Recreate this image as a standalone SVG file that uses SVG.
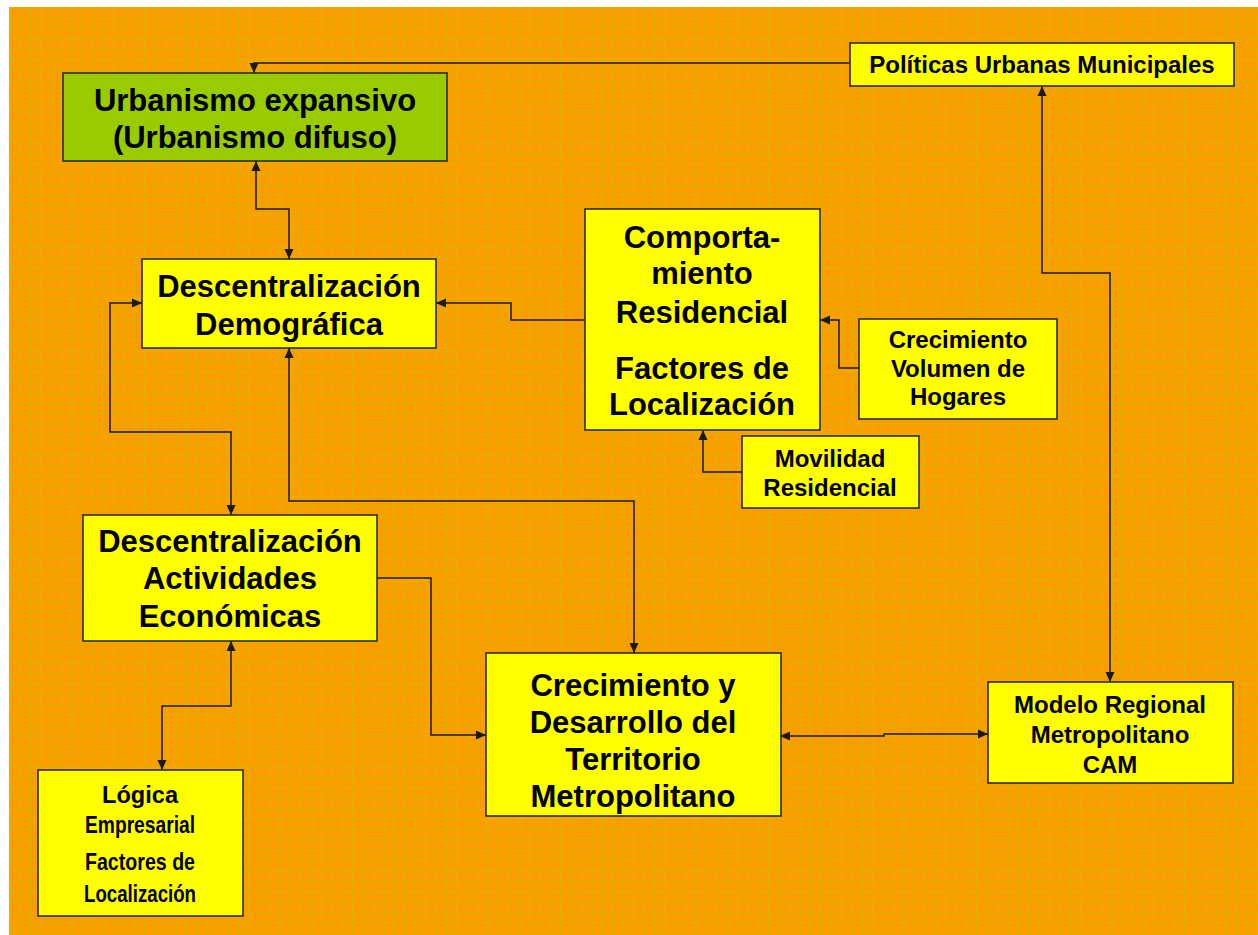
<svg xmlns="http://www.w3.org/2000/svg" width="1258" height="935" viewBox="0 0 1258 935">
<defs>
<pattern id="grid" x="9" y="7" width="10.4" height="10.4" patternUnits="userSpaceOnUse">
<rect width="10.4" height="10.4" fill="#FB9C00"/>
<path d="M0,0.7 H10.4 M0.7,0 V10.4" stroke="#D9B700" stroke-width="1.4" opacity="0.75"/>
</pattern>
<marker id="ah" viewBox="0 0 10 10" refX="10" refY="5" markerWidth="10" markerHeight="10" markerUnits="userSpaceOnUse" orient="auto-start-reverse">
<path d="M0,0.5 L10,5 L0,9.5 z" fill="#1a1a1a"/>
</marker>
<style>
.box{fill:#FFFF00;stroke:#2b2b1a;stroke-width:1.6}
.green{fill:#99CC00;stroke:#2b2b1a;stroke-width:1.6}
.t{font-family:"Liberation Sans",Arial,sans-serif;font-weight:bold;fill:#000;text-anchor:middle}
.big{font-size:31px}
.mid{font-size:24px}
.sm{font-size:24px}
.c{fill:none;stroke:#1a1a1a;stroke-width:1.5}
.a2{marker-start:url(#ah);marker-end:url(#ah)}
.a1{marker-end:url(#ah)}
</style>
</defs>
<rect width="1258" height="935" fill="#ffffff"/>
<rect x="9" y="7" width="1249" height="928" fill="url(#grid)"/>

<g id="connectors">
<path class="c a1" d="M850,63 H254 V73"/>
<path class="c a2" d="M256,161 V209 H289 V259"/>
<path class="c a2" d="M142,303 H110 V432 H231 V515"/>
<path class="c a2" d="M289,348 V501 H634 V653"/>
<path class="c a1" d="M585,320 H511 V303 H436"/>
<path class="c a1" d="M859,368 H839 V320 H820"/>
<path class="c a1" d="M742,472 H703 V430"/>
<path class="c a2" d="M1042,86 V273 H1110 V682"/>
<path class="c a1" d="M377,578 H431 V735 H486"/>
<path class="c a2" d="M231,641 V706 H162 V770"/>
<path class="c a2" d="M780,736 H884 V734 H988"/>
</g>

<g id="urbanismo">
<rect class="green" x="63" y="73" width="384" height="88"/>
<text class="t big" x="255" y="111">Urbanismo expansivo</text>
<text class="t big" x="255" y="148">(Urbanismo difuso)</text>
</g>

<g id="politicas">
<rect class="box" x="850" y="43" width="384" height="43"/>
<text class="t mid" x="1042" y="73">Políticas Urbanas Municipales</text>
</g>

<g id="demografica">
<rect class="box" x="142" y="259" width="294" height="89"/>
<text class="t big" x="289" y="297">Descentralización</text>
<text class="t big" x="289" y="335">Demográfica</text>
</g>

<g id="comportamiento">
<rect class="box" x="585" y="209" width="235" height="221"/>
<text class="t big" x="702" y="248">Comporta-</text>
<text class="t big" x="702" y="284">miento</text>
<text class="t big" x="702" y="323">Residencial</text>
<text class="t big" x="702" y="379">Factores de</text>
<text class="t big" x="702" y="415">Localización</text>
</g>

<g id="hogares">
<rect class="box" x="859" y="319" width="198" height="100"/>
<text class="t mid" x="958" y="348">Crecimiento</text>
<text class="t mid" x="958" y="377">Volumen de</text>
<text class="t mid" x="958" y="405">Hogares</text>
</g>

<g id="movilidad">
<rect class="box" x="742" y="436" width="177" height="72"/>
<text class="t mid" x="830" y="467">Movilidad</text>
<text class="t mid" x="830" y="496">Residencial</text>
</g>

<g id="actividades">
<rect class="box" x="83" y="515" width="294" height="126"/>
<text class="t big" x="230" y="552">Descentralización</text>
<text class="t big" x="230" y="589">Actividades</text>
<text class="t big" x="230" y="627">Económicas</text>
</g>

<g id="territorio">
<rect class="box" x="486" y="653" width="295" height="163"/>
<text class="t big" x="633" y="696">Crecimiento y</text>
<text class="t big" x="633" y="733">Desarrollo del</text>
<text class="t big" x="633" y="770">Territorio</text>
<text class="t big" x="633" y="807">Metropolitano</text>
</g>

<g id="modelo">
<rect class="box" x="988" y="682" width="245" height="101"/>
<text class="t mid" x="1110" y="713">Modelo Regional</text>
<text class="t mid" x="1110" y="743">Metropolitano</text>
<text class="t mid" x="1110" y="773">CAM</text>
</g>

<g id="logica">
<rect class="box" x="38" y="770" width="205" height="146"/>
<text class="t sm" x="140" y="803" textLength="76" lengthAdjust="spacingAndGlyphs">Lógica</text>
<text class="t sm" x="140" y="833" textLength="110" lengthAdjust="spacingAndGlyphs">Empresarial</text>
<text class="t sm" x="140" y="870" textLength="110" lengthAdjust="spacingAndGlyphs">Factores de</text>
<text class="t sm" x="140" y="902" textLength="112" lengthAdjust="spacingAndGlyphs">Localización</text>
</g>
</svg>
